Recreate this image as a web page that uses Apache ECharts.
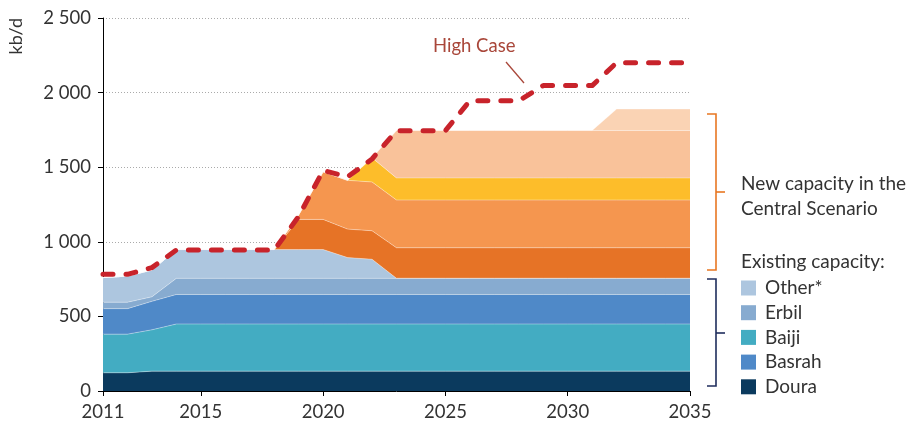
<!DOCTYPE html>
<html>
<head>
<meta charset="utf-8">
<script src="https://cdn.jsdelivr.net/npm/echarts@6/dist/echarts.min.js"></script>
<style>
  html, body { margin: 0; padding: 0; background: #fff; }
  #chart { width: 915px; height: 426px; }
</style>
</head>
<body>
<div id="chart"></div>
<script>
// years on the x axis
const years = ["2011","2012","2013","2014","2015","2016","2017","2018","2019","2020","2021","2022","2023",
  "2024","2025","2026","2027","2028","2029","2030","2031","2032","2033","2034","2035"];

// existing capacity (kb/d), stacked bottom-up
const doura  = [122,122,133,133,133,133,133,133,133,133,133,133,133,133,133,133,133,133,133,133,133,133,133,133,133];
const baiji  = [259,259,277,316,316,316,316,316,316,316,316,316,316,316,316,316,316,316,316,316,316,316,316,316,316];
const basrah = [171,171,191,198,198,198,198,198,198,198,198,198,198,198,198,198,198,198,198,198,198,198,198,198,198];
const erbil  = [43,43,30,108,108,108,108,108,108,108,108,108,108,108,108,108,108,108,108,108,108,108,108,108,108];
const other  = [165,175,180,193,193,193,193,193,193,193,139,128,0,0,0,0,0,0,0,0,0,0,0,0,0];

// new capacity in the Central Scenario (unnamed projects)
const newA = [0,0,0,0,0,0,0,0,202,202,191,191,205,205,205,205,205,205,205,205,205,205,205,205,205];
const newB = [0,0,0,0,0,0,0,0,30,319,327,327,320,320,320,320,320,320,320,320,320,320,320,320,320];
const newC = [0,0,0,0,0,0,0,0,0,0,0,162,148,148,148,148,148,148,148,148,148,148,148,148,148];
const newD = [0,0,0,0,0,0,0,0,0,0,0,0,318,318,318,318,318,318,318,318,318,318,318,318,318];
const newE = [0,0,0,0,0,0,0,0,0,0,0,0,0,0,0,0,0,0,0,0,0,144,144,144,144];

// high case total
const highCase = [782,782,827,945,945,945,945,945,1170,1478,1435,1555,1745,1745,1745,1946,1946,1946,2047,2047,2047,2200,2200,2200,2200];

const FONT = "Lato";
const TXT = "#333333";

function area(name, data, color) {
  return {
    name: name,
    type: "line",
    stack: "total",
    data: data,
    symbol: "none",
    itemStyle: { color: color },
    lineStyle: { width: 1, color: "rgba(255,255,255,0.35)" },
    areaStyle: { color: color, opacity: 1 },
    emphasis: { disabled: true },
    silent: true
  };
}

const chart = echarts.init(document.getElementById("chart"));

chart.setOption({
  animation: false,
  backgroundColor: "#fff",
  grid: { left: 103, right: 225, top: 18, bottom: 35 },
  legend: {
    data: ["Other*", "Erbil", "Baiji", "Basrah", "Doura"],
    orient: "vertical",
    left: 741,
    top: 278.5,
    icon: "rect",
    itemWidth: 15,
    itemHeight: 15,
    itemGap: 5.7,
    padding: 0,
    selectedMode: false,
    textStyle: { fontFamily: FONT, fontSize: 19, color: TXT, padding: [0, 0, 0, 4] }
  },
  xAxis: {
    type: "category",
    data: years,
    boundaryGap: false,
    axisLine: { lineStyle: { color: "#000", width: 1 } },
    axisTick: {
      length: 5,
      lineStyle: { color: "#000" },
      interval: function (i, v) { return v === "2011" || Number(v) % 5 === 0; }
    },
    axisLabel: {
      interval: function (i, v) { return v === "2011" || Number(v) % 5 === 0; },
      fontFamily: FONT, fontSize: 18.5, color: TXT, margin: 12
    },
    splitLine: { show: false }
  },
  yAxis: {
    type: "value",
    min: 0,
    max: 2500,
    interval: 500,
    axisLine: { show: true, lineStyle: { color: "#000", width: 1 } },
    axisTick: { show: true, length: 5, lineStyle: { color: "#000" } },
    axisLabel: {
      fontFamily: FONT, fontSize: 18.5, color: TXT, margin: 12,
      formatter: function (v) { return String(v).replace(/\B(?=(\d{3})+(?!\d))/g, " "); }
    },
    splitLine: { show: true, lineStyle: { color: "#aaa", width: 1, type: [1, 2] } }
  },
  graphic: [
    { type: "text", left: 7, top: 18, rotation: Math.PI / 2,
      style: { text: "kb/d", font: "18px " + FONT, fill: TXT } },
    { type: "text", x: 433, y: 46,
      style: { text: "High Case", font: "18.5px " + FONT, fill: "#A9473A", textVerticalAlign: "middle" } },
    { type: "line", shape: { x1: 506, y1: 62, x2: 524, y2: 83 },
      style: { stroke: "#A9473A", lineWidth: 1.3 } },
    // orange brace
    { type: "polyline", shape: { points: [[707, 114], [716, 114], [716, 270], [707, 270]] },
      style: { stroke: "#E87722", lineWidth: 1.6, fill: null } },
    { type: "line", shape: { x1: 716, y1: 192, x2: 725, y2: 192 },
      style: { stroke: "#E87722", lineWidth: 1.6 } },
    // navy brace
    { type: "polyline", shape: { points: [[707, 279], [716, 279], [716, 386], [707, 386]] },
      style: { stroke: "#1F2D5C", lineWidth: 1.6, fill: null } },
    { type: "line", shape: { x1: 716, y1: 333, x2: 725, y2: 333 },
      style: { stroke: "#1F2D5C", lineWidth: 1.6 } },
    { type: "text", x: 741, y: 184,
      style: { text: "New capacity in the", font: "19px " + FONT, fill: TXT, textVerticalAlign: "middle" } },
    { type: "text", x: 741, y: 209,
      style: { text: "Central Scenario", font: "19px " + FONT, fill: TXT, textVerticalAlign: "middle" } },
    { type: "text", x: 741, y: 262,
      style: { text: "Existing capacity:", font: "19px " + FONT, fill: TXT, textVerticalAlign: "middle" } }
  ],
  series: [
    area("Doura", doura, "#0B3A5E"),
    area("Baiji", baiji, "#43ACC2"),
    area("Basrah", basrah, "#4F89C8"),
    area("Erbil", erbil, "#87ABD0"),
    area("Other*", other, "#ADC6DF"),
    area("New A", newA, "#E67326"),
    area("New B", newB, "#F5964F"),
    area("New C", newC, "#FDBD2A"),
    area("New D", newD, "#F9C29A"),
    area("New E", newE, "#FAD3B4"),
    {
      name: "High Case",
      type: "line",
      data: highCase,
      symbol: "none",
      z: 5,
      silent: true,
      lineStyle: { color: "#C8232B", width: 5, type: [10, 13], cap: "round", join: "round" }
    }
  ]
});
</script>
</body>
</html>
